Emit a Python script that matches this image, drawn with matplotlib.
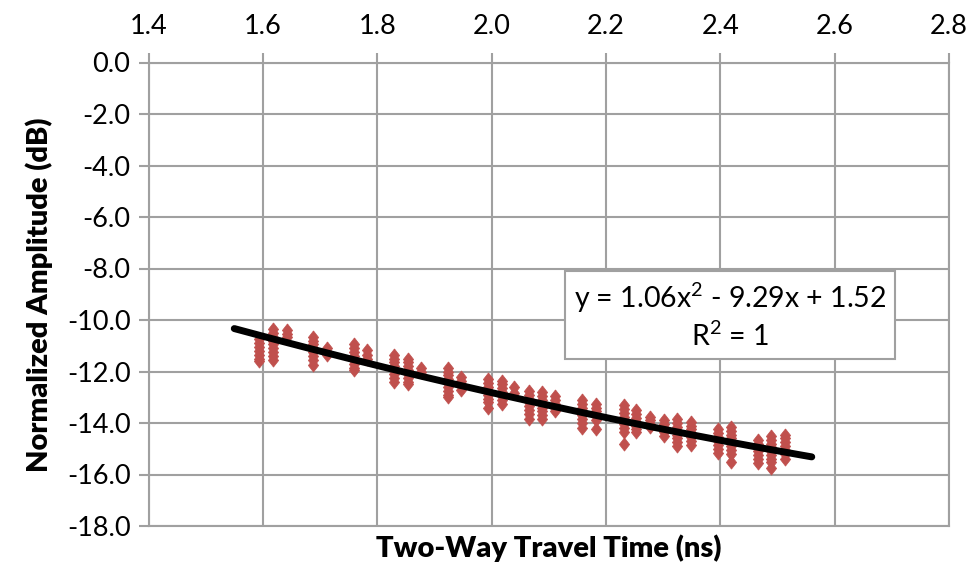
import matplotlib
matplotlib.use("Agg")
import matplotlib.pyplot as plt
import numpy as np

plt.rcParams['font.family'] = ['Lato', 'DejaVu Sans']
plt.rcParams['mathtext.fontset'] = 'custom'
plt.rcParams['mathtext.rm'] = 'Lato'
plt.rcParams['mathtext.it'] = 'Lato'

# Two-way travel time (ns) for each measurement column
x_cols = [1.593, 1.617, 1.642, 1.688, 1.713, 1.759, 1.783, 1.829, 1.853, 1.876,
          1.924, 1.946, 1.994, 2.018, 2.040, 2.066, 2.089, 2.111, 2.159, 2.182,
          2.231, 2.252, 2.277, 2.301, 2.324, 2.349, 2.396, 2.419, 2.466, 2.489, 2.513]

# Normalized amplitude (dB) values in each column
y_cols = [
    [-10.75, -10.9, -11.05, -11.2, -11.35, -11.5, -11.6],
    [-10.35, -10.5, -10.65, -10.8, -10.95, -11.1, -11.25, -11.4, -11.55],
    [-10.4, -10.55, -10.65],
    [-10.65, -10.8, -10.95, -11.1, -11.25, -11.4, -11.55, -11.75],
    [-11.1, -11.25, -11.35],
    [-10.95, -11.1, -11.25, -11.4, -11.55, -11.7, -11.85, -11.95],
    [-11.15, -11.35, -11.5],
    [-11.35, -11.5, -11.65, -11.8, -11.95, -12.1, -12.25, -12.4],
    [-11.5, -11.65, -11.8, -11.95, -12.1, -12.25, -12.4, -12.5],
    [-11.85, -12.0],
    [-11.85, -12.0, -12.15, -12.3, -12.45, -12.6, -12.75, -12.9, -13.0],
    [-12.2, -12.35, -12.5, -12.7],
    [-12.3, -12.45, -12.6, -12.75, -12.9, -13.05, -13.2, -13.4],
    [-12.35, -12.5, -12.65, -12.8, -12.95, -13.1, -13.25],
    [-12.6, -12.85],
    [-12.75, -12.9, -13.05, -13.2, -13.35, -13.5, -13.65, -13.85],
    [-12.8, -12.95, -13.1, -13.25, -13.4, -13.55, -13.7, -13.85],
    [-12.95, -13.1, -13.25, -13.4, -13.55],
    [-13.1, -13.25, -13.4, -13.55, -13.7, -13.85, -14.0, -14.2],
    [-13.25, -13.4, -13.55, -13.7, -13.9, -14.25],
    [-13.3, -13.45, -13.6, -13.75, -13.9, -14.05, -14.2, -14.35, -14.8],
    [-13.5, -13.65, -13.8, -13.95, -14.1, -14.25, -14.35],
    [-13.75, -13.9, -14.05, -14.15],
    [-13.9, -14.05, -14.2, -14.35, -14.5],
    [-13.85, -14.0, -14.15, -14.3, -14.45, -14.6, -14.75, -14.9],
    [-13.95, -14.1, -14.25, -14.4, -14.55, -14.7, -14.85],
    [-14.25, -14.4, -14.55, -14.7, -14.85, -15.0, -15.15],
    [-14.15, -14.3, -14.45, -14.6, -14.75, -14.9, -15.05, -15.2, -15.5],
    [-14.65, -14.8, -14.95, -15.1, -15.25, -15.4, -15.55],
    [-14.5, -14.65, -14.8, -14.95, -15.1, -15.25, -15.4, -15.5, -15.75],
    [-14.45, -14.6, -14.75, -14.9, -15.05, -15.2, -15.4],
]

# Polynomial trendline shown on the chart
trend_coef = [1.06, -9.29, 1.52]
trend_range = [1.55, 2.56]
equation_text = "y = 1.06x$^{2}$ - 9.29x + 1.52\nR$^{2}$ = 1"

x_ticks = [1.4, 1.6, 1.8, 2.0, 2.2, 2.4, 2.6, 2.8]
y_ticks = [0.0, -2.0, -4.0, -6.0, -8.0, -10.0, -12.0, -14.0, -16.0, -18.0]

fig = plt.figure(figsize=(9.76, 5.73), dpi=100)
ax = fig.add_axes([148.5/976, 1-526/573, (949-148.5)/976, (526-62.5)/573])

grid_c = '#A0A0A0'
xs, ys = [], []
for xv, col in zip(x_cols, y_cols):
    xs.extend([xv]*len(col))
    ys.extend(col)
tall_diamond = [(0, 1), (0.78, 0), (0, -1), (-0.78, 0), (0, 1)]
ax.plot(xs, ys, linestyle='none', marker=tall_diamond, markersize=9.5, color='#C0504D',
        markeredgewidth=0.5, markeredgecolor='#C0504D', zorder=3)

tx = np.linspace(trend_range[0], trend_range[1], 200)
ax.plot(tx, np.polyval(trend_coef, tx), color='black', lw=5,
        solid_capstyle='round', zorder=4)

ax.set_xlim(1.4, 2.8)
ax.set_ylim(-18, 0)
ax.set_xticks(x_ticks)
ax.set_yticks(y_ticks)
ax.set_xticklabels([f"{v:.1f}" for v in x_ticks])
ax.set_yticklabels([f"{v:.1f}" for v in y_ticks])
ax.xaxis.tick_top()
ax.grid(True, color=grid_c, lw=1.5)
ax.set_axisbelow(True)
for s in ax.spines.values():
    s.set_color(grid_c)
    s.set_linewidth(1.5)
ax.tick_params(axis='x', direction='out', length=7, width=1.5, color=grid_c,
               labelsize=19.5, pad=10)
ax.tick_params(axis='y', direction='out', length=7, width=1.5, color=grid_c,
               labelsize=19.5, pad=6)

ax.set_xlabel("Two-Way Travel Time (ns)", fontsize=21, fontweight='heavy', labelpad=6)
ax.xaxis.set_label_position('bottom')
ax.set_ylabel("Normalized Amplitude (dB)", fontsize=21, fontweight='heavy', labelpad=10)

ax.text(2.417, -9.84, equation_text, ha='center', va='center', fontsize=20.5,
        linespacing=1.25, zorder=5,
        bbox=dict(boxstyle='square,pad=0.3', fc='white', ec=grid_c, lw=1.5))

fig.savefig("out.png", dpi=100)
